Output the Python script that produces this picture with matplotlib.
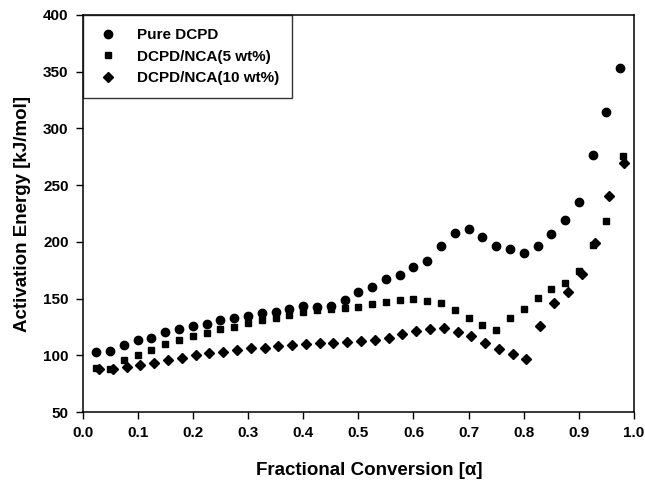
import matplotlib

matplotlib.use("Agg", force=True)
import matplotlib.pyplot as plt

plt.rcParams["font.family"] = ["Liberation Sans", "DejaVu Sans"]
plt.rcParams["font.weight"] = "bold"

# Pure DCPD (circles)
pure_x = [0.025, 0.05, 0.075, 0.1, 0.125, 0.15, 0.175, 0.2, 0.225, 0.25,
          0.275, 0.3, 0.325, 0.35, 0.375, 0.4, 0.425, 0.45, 0.475, 0.5,
          0.525, 0.55, 0.575, 0.6, 0.625, 0.65, 0.675, 0.7, 0.725, 0.75,
          0.775, 0.8, 0.825, 0.85, 0.875, 0.9, 0.925, 0.95, 0.975]
pure_e = [103, 104, 109, 113.5, 115.5, 120.3, 122.9, 126.1, 127.3, 131.1,
          133.1, 134.9, 137, 138.5, 140.5, 143.4, 142.8, 143.4, 149.2, 156,
          160.5, 167, 170.8, 178.1, 182.9, 196, 207.8, 211, 204.3, 196,
          193.7, 189.9, 196.8, 207.3, 219.5, 234.8, 276.6, 314.8, 353.6]

# DCPD/NCA 5 wt% (squares)
nca5_x = [0.025, 0.05, 0.075, 0.1, 0.125, 0.15, 0.175, 0.2, 0.225, 0.25,
          0.275, 0.3, 0.325, 0.35, 0.375, 0.4, 0.425, 0.45, 0.475, 0.5,
          0.525, 0.55, 0.575, 0.6, 0.625, 0.65, 0.675, 0.7, 0.725, 0.75,
          0.775, 0.8, 0.825, 0.85, 0.875, 0.9, 0.925, 0.95, 0.98]
nca5_e = [89, 88, 95.8, 100.5, 105, 109.7, 113.8, 117, 120.1, 123.2,
          125.2, 128.2, 131.1, 132.6, 135.5, 138.5, 139.9, 140.8, 141.7, 142.9,
          144.9, 147, 148.5, 149.9, 148.1, 146.4, 140, 132.9, 126.9, 122.3,
          132.9, 140.8, 150.8, 158.2, 164, 174.5, 197.5, 218.2, 276]

# DCPD/NCA 10 wt% (diamonds)
nca10_x = [0.03, 0.055, 0.08, 0.105, 0.13, 0.155, 0.18, 0.205, 0.23, 0.255,
           0.28, 0.305, 0.33, 0.355, 0.38, 0.405, 0.43, 0.455, 0.48, 0.505,
           0.53, 0.555, 0.58, 0.605, 0.63, 0.655, 0.68, 0.705, 0.73, 0.755,
           0.78, 0.805, 0.83, 0.855, 0.88, 0.905, 0.93, 0.955, 0.982]
nca10_e = [87.6, 88.2, 89.4, 91.4, 93.5, 95.9, 97.6, 100, 101.7, 102.6,
           104.6, 106.1, 106.7, 108.5, 109.1, 110, 110.6, 111.1, 111.8, 112.6,
           113.2, 115.5, 118.8, 121.7, 123.2, 124.3, 120.3, 116.8, 111.1, 105.8,
           100.9, 97, 126.1, 146.4, 156.1, 171.9, 198.7, 240.7, 269.3]

x_ticks = [0.0, 0.1, 0.2, 0.3, 0.4, 0.5, 0.6, 0.7, 0.8, 0.9, 1.0]
y_ticks = [50, 100, 150, 200, 250, 300, 350, 400]

fig = plt.figure(figsize=(6.45, 4.82), dpi=100)
ax = fig.add_axes([0.128, 0.145, 0.855, 0.824])

ax.plot(pure_x, pure_e, "o", color="black", markersize=6, label="Pure DCPD")
ax.plot(nca5_x, nca5_e, "s", color="black", markersize=5, label="DCPD/NCA(5 wt%)")
ax.plot(nca10_x, nca10_e, "D", color="black", markersize=5.5, label="DCPD/NCA(10 wt%)")

ax.set_xlim(0.0, 1.0)
ax.set_ylim(50, 400)
ax.set_xticks(x_ticks)
ax.set_xticklabels([f"{t:.1f}" for t in x_ticks])
ax.set_yticks(y_ticks)
ax.tick_params(direction="out", length=5, width=1, labelsize=11, colors="black", pad=5)
for lab in ax.get_xticklabels() + ax.get_yticklabels():
    lab.set_fontweight("bold")
for sp in ax.spines.values():
    sp.set_linewidth(1.1)
    sp.set_color("black")

ax.set_xlabel("Fractional Conversion [α]", fontsize=13.5, fontweight="bold")
ax.xaxis.set_label_coords(0.52, -0.125)
ax.set_ylabel("Activation Energy [kJ/mol]", fontsize=13.5, fontweight="bold", labelpad=9)

leg = ax.legend(loc="upper left", bbox_to_anchor=(0.0, 1.0), frameon=True,
                fancybox=False, edgecolor="black", fontsize=11, labelspacing=0.5,
                borderpad=0.85, handletextpad=1.1, borderaxespad=0.0, handlelength=1.6)
leg.get_frame().set_linewidth(1.0)
for t in leg.get_texts():
    t.set_fontweight("bold")

fig.savefig("out.png", dpi=100)
plt.close(fig)
